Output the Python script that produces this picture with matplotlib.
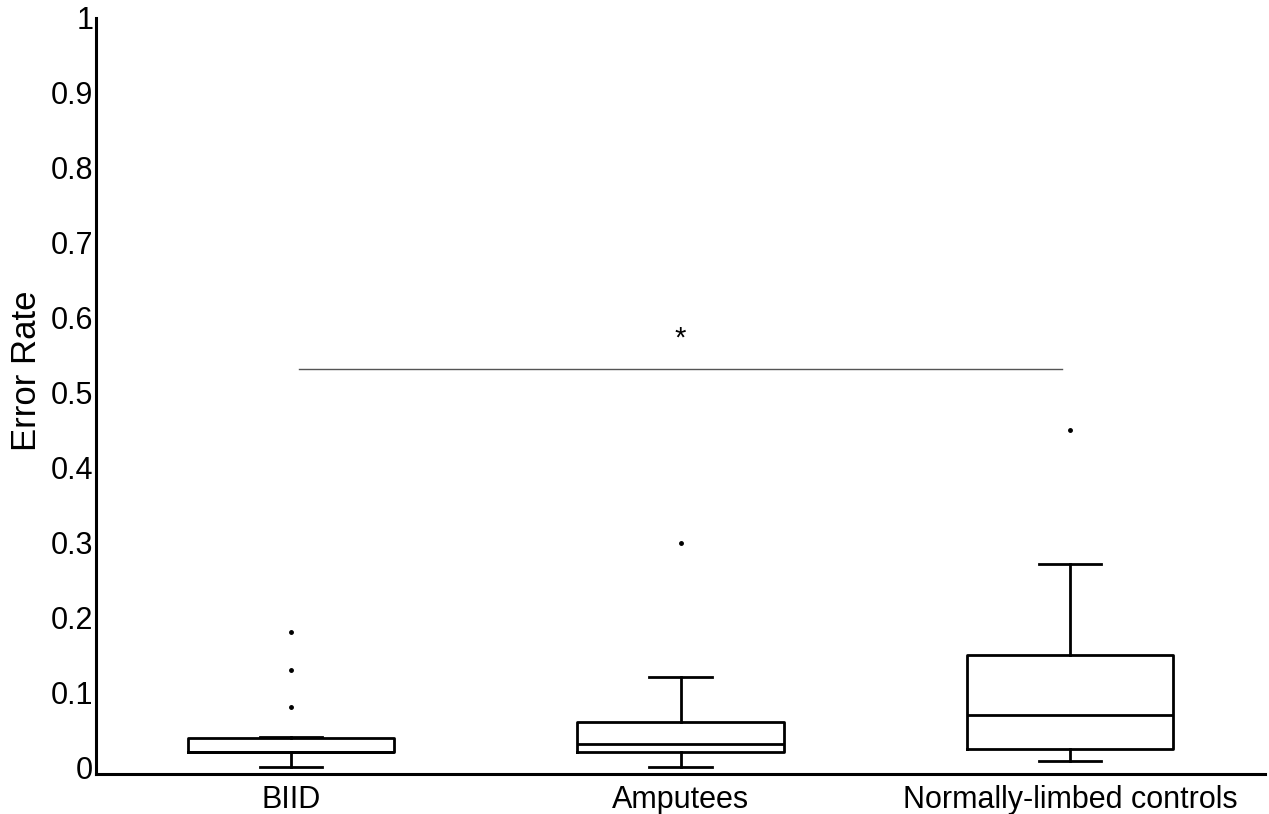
import matplotlib.pyplot as plt

plt.rcParams['font.family'] = ['Liberation Sans', 'DejaVu Sans']

groups = ['BIID', 'Amputees', 'Normally-limbed controls']
whislo = [0.0, 0.0, 0.009]
q1 = [0.020, 0.020, 0.025]
med = [0.020, 0.031, 0.070]
q3 = [0.039, 0.060, 0.150]
whishi = [0.041, 0.121, 0.271]
fliers = [[0.080, 0.130, 0.180], [0.300], [0.450]]

sig_y = 0.532
sig_label = '*'

stats = []
for i, g in enumerate(groups):
    stats.append(dict(label=g, whislo=whislo[i], q1=q1[i], med=med[i],
                      q3=q3[i], whishi=whishi[i], fliers=fliers[i]))

fig = plt.figure(figsize=(12.69, 8.14), dpi=100)
ax = fig.add_axes([0.0757, 0.049, 0.9211, 0.929])

lw = 2.0
ax.bxp(stats, positions=[1, 2, 3], widths=0.53, showfliers=True,
       boxprops=dict(color='black', linewidth=lw),
       medianprops=dict(color='black', linewidth=lw),
       whiskerprops=dict(color='black', linewidth=lw),
       capprops=dict(color='black', linewidth=lw),
       capwidths=0.16,
       flierprops=dict(marker='o', markersize=2.5, markerfacecolor='black',
                       markeredgecolor='black'))

# significance bar
ax.plot([1.02, 2.98], [sig_y, sig_y], color='#555555', linewidth=1.0)
ax.text(2, sig_y + 0.04, sig_label, ha='center', va='center', fontsize=21)

ax.set_xlim(0.5, 3.5)
ax.set_ylim(-0.009, 1.0)
ax.set_yticks([0, 0.1, 0.2, 0.3, 0.4, 0.5, 0.6, 0.7, 0.8, 0.9, 1])
ax.set_yticklabels(['0', '0.1', '0.2', '0.3', '0.4', '0.5', '0.6', '0.7', '0.8', '0.9', '1'])
ax.tick_params(axis='both', length=0, labelsize=22)
ax.tick_params(axis='y', pad=2)
ax.tick_params(axis='x', pad=7.5)
ax.set_ylabel('Error Rate', fontsize=25)
ax.yaxis.set_label_coords(-0.045, 0.534)

for s in ['top', 'right']:
    ax.spines[s].set_visible(False)
for s in ['left', 'bottom']:
    ax.spines[s].set_linewidth(2.2)

fig.savefig('out.png', dpi=100)
